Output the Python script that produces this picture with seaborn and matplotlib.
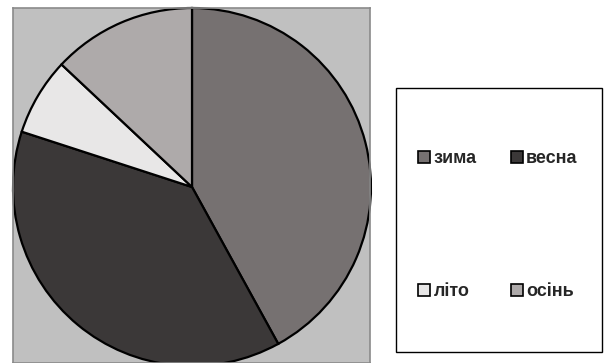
import matplotlib
matplotlib.use("Agg")
import matplotlib.pyplot as plt
import seaborn as sns
from matplotlib.patches import Rectangle

seasons = ["зима", "весна", "літо", "осінь"]
shares = [42, 38, 7, 13]
colors = ["#767171", "#3b3838", "#e8e7e7", "#aeaaaa"]

sns.set_theme(style="white")
plt.rcParams["font.family"] = ["Liberation Sans", "DejaVu Sans"]

W, H = 604, 363
fig = plt.figure(figsize=(W / 100, H / 100), dpi=100)
fig.patch.set_facecolor("white")

# pie plot area
ax = fig.add_axes([13 / W, 0, (370 - 13) / W, (363 - 8) / H])
palette = sns.color_palette(colors)
wedges, _ = ax.pie(shares, colors=palette, startangle=90, counterclock=False,
                   wedgeprops=dict(edgecolor="black", linewidth=1.6))
ax.set_frame_on(True)
ax.set_facecolor("#c0c0c0")
ax.patch.set_visible(True)
R = 179.0
ax.set_xlim((13 - 192) / R, (370 - 192) / R)
ax.set_ylim((187 - 363) / R, (187 - 8) / R)
ax.set_aspect("auto")
for s in ax.spines.values():
    s.set_visible(True)
    s.set_color("#8a8a8a")
    s.set_linewidth(1.2)

# legend frame
fig.patches.append(Rectangle((396 / W, 1 - 352 / H), (602 - 396) / W, (352 - 88) / H,
                             transform=fig.transFigure, facecolor="white",
                             edgecolor="black", linewidth=1.0, zorder=0))

order = [0, 2, 1, 3]
leg = fig.legend([wedges[i] for i in order], [seasons[i] for i in order], ncol=2,
                 loc="upper left", bbox_to_anchor=(409 / W, 1 - 141 / H), frameon=False,
                 prop=dict(size=13, weight="bold"), handlelength=0.65, handleheight=0.65,
                 handletextpad=0.2, columnspacing=1.9, labelspacing=6.45, borderpad=0)
for h in leg.legend_handles:
    h.set_linewidth(1.2)
    h.set_edgecolor("black")

fig.savefig("out.png", dpi=100)
